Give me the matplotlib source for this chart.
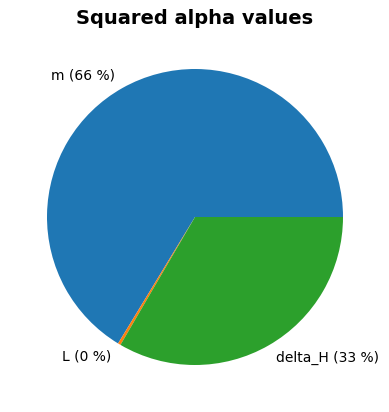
import matplotlib

matplotlib.use("Agg")
import matplotlib.pyplot as plt

labels = ["m", "L", "delta_H"]
values = [0.663, 0.003, 0.334]

fig = plt.figure(figsize=(3.89, 4.12), dpi=100)
W, H = 389, 412
cx, cy, half = 195, 217, 185
ax = fig.add_axes([(cx - half) / W, (H - cy - half) / H, 2 * half / W, 2 * half / H])

pie_labels = [f"{name} ({round(v * 100):.0f} %)" for name, v in zip(labels, values)]
ax.pie(values, labels=pie_labels, textprops={"fontsize": 10})
ax.set_aspect("equal")

fig.text(0.5, 1 - 19 / H, "Squared alpha values", ha="center", va="center",
         fontsize=14, fontweight="bold")

fig.savefig("out.png", dpi=100)
